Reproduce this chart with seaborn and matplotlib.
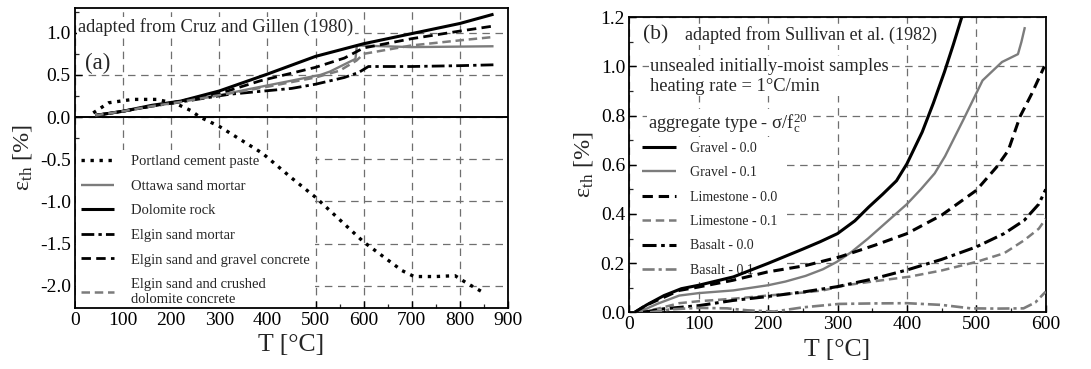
import matplotlib
matplotlib.use("Agg")
import matplotlib.pyplot as plt
import seaborn as sns
from matplotlib.ticker import MultipleLocator

# ---------------- (a) Cruz and Gillen (1980) ----------------
t_portland = [38, 70, 120, 170, 210, 240, 260, 300, 390, 450, 500, 600, 680, 705, 750, 790, 815, 852]
e_portland = [0.05, 0.17, 0.21, 0.21, 0.16, 0.08, 0.0, -0.11, -0.43, -0.72, -0.95, -1.48, -1.82, -1.89, -1.89, -1.88, -1.97, -2.09]

t_ottawa = [42, 100, 160, 220, 300, 360, 510, 530, 583, 586, 700, 870]
e_ottawa = [0.02, 0.07, 0.13, 0.19, 0.26, 0.33, 0.50, 0.54, 0.69, 0.85, 0.83, 0.84]

t_dolomite = [42, 100, 160, 220, 300, 400, 500, 600, 700, 800, 870]
e_dolomite = [0.02, 0.07, 0.14, 0.19, 0.31, 0.51, 0.72, 0.87, 0.99, 1.11, 1.22]

t_elgin_mortar = [42, 100, 160, 220, 320, 450, 500, 560, 590, 610, 700, 800, 870]
e_elgin_mortar = [0.02, 0.07, 0.13, 0.18, 0.27, 0.34, 0.39, 0.47, 0.53, 0.60, 0.60, 0.61, 0.62]

t_elgin_gravel = [42, 100, 160, 220, 300, 385, 500, 560, 600, 700, 800, 870]
e_elgin_gravel = [0.02, 0.07, 0.13, 0.19, 0.28, 0.43, 0.59, 0.70, 0.82, 0.93, 1.02, 1.08]

t_elgin_dolomite = [42, 100, 160, 220, 300, 400, 500, 550, 585, 600, 700, 800, 870]
e_elgin_dolomite = [0.02, 0.07, 0.13, 0.18, 0.26, 0.36, 0.47, 0.55, 0.67, 0.75, 0.85, 0.91, 0.95]

# ---------------- (b) Sullivan et al. (1982) ----------------
t_gravel0 = [8, 25, 50, 75, 100, 150, 200, 250, 275, 300, 325, 345, 365, 385, 400, 422, 438, 454, 467, 479]
e_gravel0 = [0.0, 0.03, 0.068, 0.096, 0.11, 0.144, 0.199, 0.257, 0.287, 0.32, 0.372, 0.428, 0.48, 0.535, 0.604, 0.733, 0.85, 0.977, 1.09, 1.2]

t_gravel1 = [8, 25, 40, 72, 100, 150, 200, 225, 254, 279, 299, 320, 344, 370, 400, 420, 440, 455, 482, 509, 537, 560, 565, 570]
e_gravel1 = [0.0, 0.015, 0.034, 0.068, 0.078, 0.089, 0.11, 0.125, 0.148, 0.175, 0.205, 0.245, 0.30, 0.365, 0.44, 0.50, 0.565, 0.635, 0.787, 0.943, 1.018, 1.05, 1.10, 1.16]

t_lime0 = [8, 25, 49, 72, 100, 149, 199, 254, 304, 354, 400, 450, 500, 529, 546, 563, 580, 598]
e_lime0 = [0.0, 0.03, 0.06, 0.089, 0.103, 0.13, 0.164, 0.19, 0.226, 0.273, 0.32, 0.395, 0.496, 0.59, 0.658, 0.796, 0.89, 1.0]

t_lime1 = [15, 40, 72, 100, 149, 199, 250, 279, 312, 350, 404, 450, 500, 540, 569, 590, 600]
e_lime1 = [0.0, 0.014, 0.037, 0.045, 0.055, 0.068, 0.08, 0.089, 0.11, 0.125, 0.145, 0.17, 0.205, 0.24, 0.293, 0.34, 0.38]

t_basalt0 = [20, 49, 100, 149, 199, 254, 299, 350, 400, 450, 500, 540, 569, 590, 600]
e_basalt0 = [0.0, 0.014, 0.027, 0.048, 0.064, 0.084, 0.104, 0.135, 0.172, 0.215, 0.266, 0.32, 0.374, 0.44, 0.50]

t_basalt1 = [30, 60, 100, 141, 170, 209, 250, 302, 350, 400, 450, 492, 530, 568, 585, 600]
e_basalt1 = [0.0, 0.012, 0.018, 0.016, 0.008, 0.003, 0.02, 0.034, 0.036, 0.037, 0.03, 0.016, 0.015, 0.016, 0.04, 0.084]

xticks_a = list(range(0, 901, 100))
yticks_a = [-2.0, -1.5, -1.0, -0.5, 0.0, 0.5, 1.0]
xticks_b = list(range(0, 601, 100))
yticks_b = [0.0, 0.2, 0.4, 0.6, 0.8, 1.0, 1.2]

sns.set_theme(style="ticks")
plt.rcParams["font.family"] = ["Liberation Serif", "DejaVu Serif"]
plt.rcParams["mathtext.fontset"] = "custom"
plt.rcParams["mathtext.rm"] = "Liberation Serif"
plt.rcParams["mathtext.it"] = "Liberation Serif:italic"
plt.rcParams["mathtext.bf"] = "Liberation Serif:bold"

BLACK = "#000000"
GRAY = "#7c7c7c"
DOT = (0, (1.0, 1.7))
DASH = (0, (3.4, 1.9))
DASHDOT = (0, (4.6, 1.5, 1.2, 1.5))
GRID_LS = (0, (6, 4.5))

fig = plt.figure(figsize=(10.91, 3.69), dpi=100)
ax1 = fig.add_axes([0.0687, 0.166, 0.3969, 0.8115])
ax2 = fig.add_axes([0.5768, 0.1537, 0.3817, 0.7995])


def draw(ax, t, e, label, color, lw, ls):
    sns.lineplot(x=t, y=e, ax=ax, color=color, lw=lw, linestyle=ls,
                 label=label, estimator=None, sort=False,
                 dash_capstyle="butt", solid_capstyle="butt", zorder=3)


# panel (a)
draw(ax1, t_portland, e_portland, "Portland cement paste", BLACK, 2.4, DOT)
draw(ax1, t_ottawa, e_ottawa, "Ottawa sand mortar", GRAY, 1.7, "-")
draw(ax1, t_dolomite, e_dolomite, "Dolomite rock", BLACK, 2.2, "-")
draw(ax1, t_elgin_mortar, e_elgin_mortar, "Elgin sand mortar", BLACK, 2.0, DASHDOT)
draw(ax1, t_elgin_gravel, e_elgin_gravel, "Elgin sand and gravel concrete", BLACK, 2.0, DASH)
draw(ax1, t_elgin_dolomite, e_elgin_dolomite,
     "Elgin sand and crushed\ndolomite concrete", GRAY, 1.8, DASH)
ax1.axhline(0, color=BLACK, lw=1.4, zorder=2.5)

# panel (b)
draw(ax2, t_gravel0, e_gravel0, "Gravel - 0.0", BLACK, 2.2, "-")
draw(ax2, t_gravel1, e_gravel1, "Gravel - 0.1", GRAY, 1.7, "-")
draw(ax2, t_lime0, e_lime0, "Limestone - 0.0", BLACK, 2.2, DASH)
draw(ax2, t_lime1, e_lime1, "Limestone - 0.1", GRAY, 1.8, DASH)
draw(ax2, t_basalt0, e_basalt0, "Basalt - 0.0", BLACK, 2.2, DASHDOT)
draw(ax2, t_basalt1, e_basalt1, "Basalt - 0.1", GRAY, 1.9, DASHDOT)

for ax, xt, yt in ((ax1, xticks_a, yticks_a), (ax2, xticks_b, yticks_b)):
    ax.set_xticks(xt)
    ax.set_yticks(yt)
    ax.set_axisbelow(True)
    ax.grid(True, which="major", color="#6f6f6f", lw=0.9, linestyle=GRID_LS)
    ax.tick_params(which="major", direction="in", length=5, width=1.0,
                   labelsize=14, colors=BLACK, pad=3)
    ax.tick_params(which="minor", direction="in", length=3, width=0.9)
    for sp in ax.spines.values():
        sp.set_color(BLACK)
        sp.set_linewidth(1.3)
        sp.set_visible(True)
    ax.set_xlabel("T [°C]", fontsize=18.5, labelpad=4)
    ax.set_ylabel("ε$_{\\mathrm{th}}$ [%]", fontsize=17.5, labelpad=4)

ax1.set_xlim(0, 900)
ax1.set_ylim(-2.26, 1.29)
ax1.xaxis.set_minor_locator(MultipleLocator(50))
ax1.yaxis.set_minor_locator(MultipleLocator(0.25))
ax1.set_yticklabels([f"{v:.1f}" for v in yticks_a])

ax2.set_xlim(0, 600)
ax2.set_ylim(0, 1.2)
ax2.xaxis.set_minor_locator(MultipleLocator(50))
ax2.yaxis.set_minor_locator(MultipleLocator(0.1))
ax2.set_yticklabels([f"{v:.1f}" for v in yticks_b])

box = dict(facecolor="white", edgecolor="none", pad=1.0)

ax1.text(0.007, 0.937, "adapted from Cruz and Gillen (1980)", transform=ax1.transAxes,
         fontsize=13.3, ha="left", va="center", bbox=box, zorder=1.6)
ax1.text(0.023, 0.817, "(a)", transform=ax1.transAxes, fontsize=16.5,
         ha="left", va="center", zorder=1.6)

ax2.text(0.033, 0.94, "(b)", transform=ax2.transAxes, fontsize=15.5,
         ha="left", va="center", bbox=box, zorder=1.6)
ax2.text(0.133, 0.94, "adapted from Sullivan et al. (1982)", transform=ax2.transAxes,
         fontsize=13, ha="left", va="center", bbox=box, zorder=1.6)
ax2.text(0.05, 0.80, "unsealed initially-moist samples\nheating rate = 1°C/min",
         transform=ax2.transAxes, fontsize=13.3, ha="left", va="center",
         linespacing=1.2, bbox=box, zorder=1.6)
ax2.text(0.045, 0.642, "aggregate type - σ/f$_{\\mathrm{c}}^{20}$", transform=ax2.transAxes,
         fontsize=13.3, ha="left", va="center", bbox=box, zorder=1.6)

leg_kw = dict(loc="upper left", frameon=True, fancybox=False, facecolor="white",
              edgecolor="none", framealpha=1, borderaxespad=0, borderpad=0.35)
leg1 = ax1.legend(bbox_to_anchor=(0.002, 0.527), fontsize=10.5, handlelength=2.3,
                  handletextpad=1.15, labelspacing=0.78, **leg_kw)
leg1.set_zorder(1.5)
leg2 = ax2.legend(bbox_to_anchor=(0.018, 0.594), fontsize=10, handlelength=2.5,
                  handletextpad=1.0, labelspacing=0.82, **leg_kw)
leg2.set_zorder(1.5)

fig.savefig("out.png", dpi=100, facecolor="white")
